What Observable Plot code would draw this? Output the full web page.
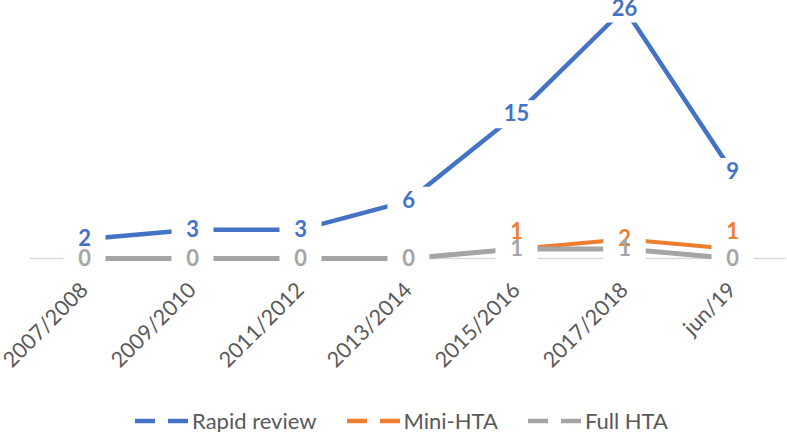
<!DOCTYPE html>
<html><head><meta charset="utf-8">
<script src="https://cdn.jsdelivr.net/npm/d3@7"></script>
<script src="https://cdn.jsdelivr.net/npm/@observablehq/plot@0.6"></script>
<style>
body{margin:0;background:#fff;font-family:Lato,sans-serif;}
#legend{display:flex;justify-content:center;align-items:center;height:27px;font-size:22px;color:#595959;padding-left:16px;margin-top:2px;}
.item{display:flex;align-items:center;margin:0 15px;}
.item svg{margin-right:4px;}
</style></head><body>
<div id="chart"></div><div id="legend"></div>
<script>
const categories = ["2007/2008","2009/2010","2011/2012","2013/2014","2015/2016","2017/2018","jun/19"];
const rapidReview = [2,3,3,6,15,26,9];
const miniHTA = [0,0,0,0,1,2,1];
const fullHTA = [0,0,0,0,1,1,0];
const seriesNames = ["Rapid review","Mini-HTA","Full HTA"];
const seriesColors = ["#4472C4","#ED7D31","#A5A5A5"];

const toRows = (name, vals) => categories.map((c,i)=>({series:name, category:c, value:vals[i]}));
const rr = toRows(seriesNames[0], rapidReview);
const mh = toRows(seriesNames[1], miniHTA);
const fh = toRows(seriesNames[2], fullHTA);

// white label boxes (like Excel data-label fills) that break the lines
const box1 = {draw(ctx){ ctx.moveTo(-21,-14); ctx.lineTo(21,-14); ctx.lineTo(21,14); ctx.lineTo(-21,14); ctx.closePath(); }};
const box2 = {draw(ctx){ ctx.moveTo(-27,-14); ctx.lineTo(27,-14); ctx.lineTo(27,14); ctx.lineTo(-27,14); ctx.closePath(); }};
const boxSym = d => String(d.value).length > 1 ? box2 : box1;
const isRaised = d => d.series === seriesNames[1] && d.value === 1;
const miniShown = d => d.value > 0 && !isRaised(d);

const lineOpts = (c, w) => ({x:"category", y:"value", stroke:c, strokeWidth:w, strokeLinejoin:"round", strokeLinecap:"butt"});
const boxOpts = (extra={}) => ({x:"category", y:"value", symbol:boxSym, r:1, fill:"white", stroke:null, ...extra});
const textOpts = (c, extra={}) => ({x:"category", y:"value", text:d=>String(d.value), fill:c, fontSize:22, fontWeight:"bold", fontFamily:"Lato", ...extra});

const chart = Plot.plot({
  width:787, height:405,
  marginLeft:30, marginRight:1, marginTop:8, marginBottom:147,
  style:{fontFamily:"Lato", background:"white"},
  x:{type:"point", domain:categories, padding:0.5},
  y:{domain:[0,26], axis:null},
  marks:[
    Plot.ruleY([0], {stroke:"#D9D9D9", strokeWidth:1.5}),
    Plot.lineY(rr, lineOpts(seriesColors[0], 4.5)),
    Plot.lineY(mh, lineOpts(seriesColors[1], 4)),
    Plot.lineY(fh, lineOpts(seriesColors[2], 5)),
    Plot.dot(rr, boxOpts()),
    Plot.dot(mh, boxOpts({filter:miniShown})),
    Plot.dot(mh, boxOpts({filter:isRaised, dy:-17})),
    Plot.dot(fh, boxOpts()),
    Plot.text(rr, textOpts(seriesColors[0])),
    Plot.text(mh, textOpts(seriesColors[1], {filter:miniShown})),
    Plot.text(mh, textOpts(seriesColors[1], {filter:isRaised, dy:-17})),
    Plot.text(fh, textOpts(seriesColors[2])),
    Plot.axisX({tickRotate:-45, tickSize:0, tickPadding:28, fontSize:21.5, fill:"#595959", textAnchor:"end", lineAnchor:"middle", label:null})
  ]
});
document.getElementById("chart").appendChild(chart);

const legend = document.getElementById("legend");
seriesNames.forEach((n,i)=>{
  const item = document.createElement("div");
  item.className = "item";
  item.innerHTML = `<svg width="53" height="10"><line x1="0" x2="20" y1="5" y2="5" stroke="${seriesColors[i]}" stroke-width="4.5"/><line x1="33" x2="53" y1="5" y2="5" stroke="${seriesColors[i]}" stroke-width="4.5"/></svg><span>${n}</span>`;
  legend.appendChild(item);
});
</script>
</body></html>
